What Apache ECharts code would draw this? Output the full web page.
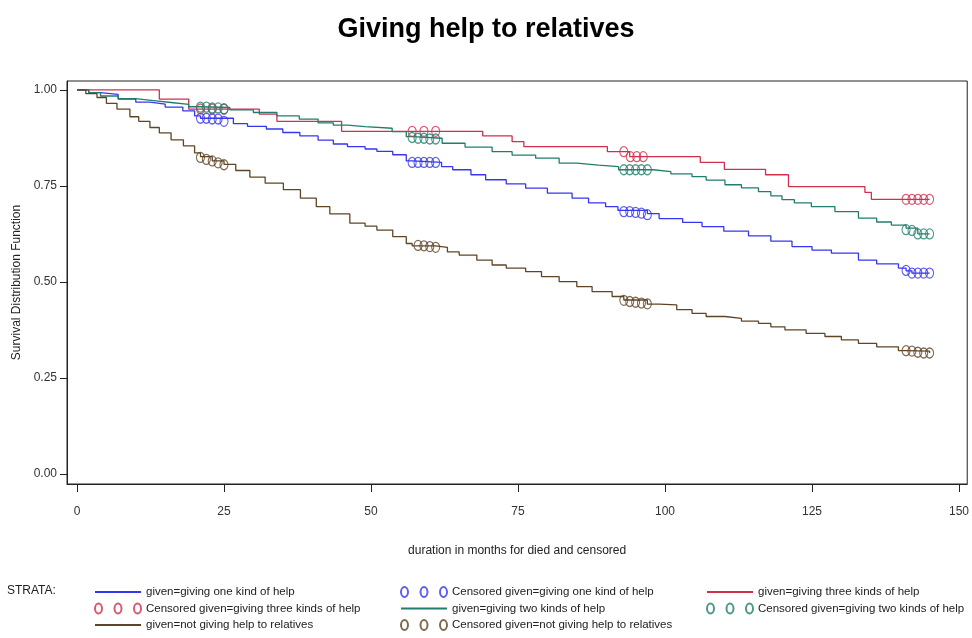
<!DOCTYPE html>
<html>
<head>
<meta charset="utf-8">
<script src="https://cdn.jsdelivr.net/npm/echarts@6/dist/echarts.min.js"></script>
<style>html,body{margin:0;padding:0;background:#fff}#c{width:972px;height:638px}</style>
</head>
<body>
<div id="c"></div>
<script>
// ---- data ----
var xTicks = [0, 25, 50, 75, 100, 125, 150];
var yTicks = [0, 0.25, 0.5, 0.75, 1.0];

var oneKind = [[0,1.0],[2,0.993],[4,0.988],[7,0.976],[10,0.968],[12.4,0.963],[15,0.955],[18,0.945],[20,0.932],[21,0.926],[26.6,0.912],[29,0.905],[32.2,0.898],[35,0.889],[37.9,0.880],[41,0.869],[43.6,0.859],[46,0.852],[49,0.846],[51,0.840],[53.7,0.831],[56,0.815],[57,0.811],[62,0.800],[63.9,0.792],[67,0.779],[69.5,0.766],[73,0.755],[76.3,0.744],[80,0.731],[84.2,0.718],[87,0.706],[89.9,0.696],[92,0.686],[97,0.678],[99,0.665],[103,0.655],[106.3,0.644],[110,0.632],[114.2,0.620],[118,0.606],[121.6,0.592],[125,0.583],[128.3,0.575],[132.9,0.557],[136,0.547],[139.7,0.536],[141,0.529],[142,0.523],[145,0.523]];
var oneKindCens = [[21,0.926],[22,0.926],[23,0.924],[24,0.924],[25,0.918],[57,0.811],[58,0.811],[59,0.811],[60,0.811],[61,0.811],[93,0.683],[94,0.683],[95,0.681],[96,0.679],[97,0.675],[141,0.530],[142,0.523],[143,0.523],[144,0.523],[145,0.523]];

var threeKinds = [[0,1.0],[14,0.976],[19,0.950],[31,0.937],[34,0.918],[45,0.892],[69,0.880],[74,0.865],[76,0.852],[90.2,0.839],[94,0.826],[106,0.811],[110.1,0.793],[117.1,0.779],[121,0.748],[134,0.733],[135.1,0.715],[145,0.715]];
var threeKindsCens = [[21,0.950],[23,0.950],[25,0.950],[57,0.892],[59,0.892],[61,0.892],[93,0.839],[94.1,0.826],[95.2,0.826],[96.3,0.826],[141,0.715],[142,0.715],[143,0.715],[144,0.715],[145,0.715]];

var twoKinds = [[0,1.0],[2,0.993],[4,0.984],[7,0.977],[10,0.972],[13,0.967],[16,0.962],[19,0.956],[21,0.954],[26,0.948],[30,0.941],[34,0.932],[37.8,0.924],[41,0.914],[43.6,0.908],[46,0.904],[49,0.900],[53.6,0.891],[56,0.878],[57,0.874],[62.1,0.861],[66,0.851],[70.6,0.839],[74,0.830],[78,0.822],[82,0.809],[85,0.804],[88.7,0.800],[92.1,0.792],[98,0.787],[101,0.781],[104.6,0.774],[107,0.765],[110.2,0.753],[113,0.745],[115.9,0.735],[118,0.724],[119.9,0.714],[122,0.706],[124.9,0.696],[128.9,0.683],[132.9,0.666],[136,0.656],[138.5,0.648],[141,0.640],[143,0.625],[145,0.625]];
var twoKindsCens = [[21,0.955],[22,0.955],[23,0.953],[24,0.953],[25,0.950],[57,0.876],[58,0.874],[59,0.874],[60,0.872],[61,0.872],[93,0.792],[94,0.792],[95,0.792],[96,0.792],[97,0.792],[141,0.636],[142,0.634],[143,0.625],[144,0.625],[145,0.625]];

var notGiving = [[0,1.0],[1.5,0.99],[3.4,0.980],[5,0.965],[6.8,0.950],[9,0.930],[10.5,0.918],[12.4,0.902],[14,0.888],[16,0.870],[18.1,0.854],[20,0.836],[21,0.826],[23,0.815],[25,0.806],[27,0.790],[29.4,0.773],[32,0.757],[35.1,0.740],[38,0.718],[40.7,0.696],[43,0.677],[46.4,0.653],[49,0.645],[51,0.635],[53.7,0.618],[56,0.600],[57,0.594],[61,0.590],[63,0.578],[65,0.570],[68,0.557],[70.6,0.544],[73,0.536],[76.3,0.527],[79,0.514],[82,0.501],[85,0.488],[87.6,0.475],[91,0.462],[93,0.453],[97,0.442],[99,0.440],[102,0.428],[104.6,0.418],[107,0.410],[110.2,0.405],[113,0.398],[115.9,0.392],[118,0.383],[120.4,0.375],[124,0.366],[127.2,0.358],[130,0.349],[132.9,0.340],[136,0.331],[139.7,0.321],[141,0.320],[145,0.315]];
var notGivingCens = [[21,0.824],[22,0.819],[23,0.815],[24,0.810],[25,0.805],[58,0.595],[59,0.594],[60,0.592],[61,0.590],[93,0.452],[94,0.449],[95,0.447],[96,0.445],[97,0.443],[141,0.321],[142,0.320],[143,0.317],[144,0.315],[145,0.315]];

var names = {
  one: 'given=giving one kind of help',
  oneC: 'Censored given=giving one kind of help',
  three: 'given=giving three kinds of help',
  threeC: 'Censored given=giving three kinds of help',
  two: 'given=giving two kinds of help',
  twoC: 'Censored given=giving two kinds of help',
  not: 'given=not giving help to relatives',
  notC: 'Censored given=not giving help to relatives'
};

// ---- styling ----
var FONT = '"Liberation Sans", Arial, sans-serif';
var C = { blue: '#3636f0', red: '#d0304c', green: '#1f7f6c', brown: '#5e4526' };
var circlesIcon = 'path://M0,5 A3.5,5 0 1,0 7,5 A3.5,5 0 1,0 0,5 Z M19.5,5 A3.5,5 0 1,0 26.5,5 A3.5,5 0 1,0 19.5,5 Z M39,5 A3.5,5 0 1,0 46,5 A3.5,5 0 1,0 39,5 Z';
var hideSym = { color: 'rgba(0,0,0,0)', borderWidth: 0, opacity: 0 };

function lineSeries(name, data, color) {
  return { type: 'line', name: name, data: data, step: 'end', symbol: 'none', showSymbol: false,
    lineStyle: { color: color, width: 1.3 }, itemStyle: { color: color }, animation: false, z: 2 };
}
function censSeries(name, data, color) {
  return { type: 'scatter', name: name, data: data, symbol: 'circle', symbolSize: [8, 10],
    itemStyle: { color: 'rgba(255,255,255,0)', borderColor: color, borderWidth: 1.2 }, animation: false, z: 3 };
}
function legendCol(left, items) {
  return { orient: 'vertical', left: left, top: 586, itemWidth: 46, itemHeight: 10, itemGap: 4.5,
    selectedMode: false, padding: 0,
    textStyle: { fontFamily: FONT, fontSize: 11.5, lineHeight: 12, color: '#222' },
    data: items };
}

var chart = echarts.init(document.getElementById('c'));
chart.setOption({
  backgroundColor: '#fff',
  animation: false,
  title: { text: 'Giving help to relatives', left: 'center', top: 11,
    textStyle: { fontFamily: FONT, fontSize: 27, fontWeight: 'bold', color: '#000' } },
  grid: { left: 67, top: 81, right: 3, bottom: 154, show: true, borderColor: '#222', borderWidth: 1 },
  xAxis: { type: 'value', min: -1.7, max: 151.4,
    name: 'duration in months for died and censored', nameLocation: 'middle', nameGap: 61,
    nameTextStyle: { fontFamily: FONT, fontSize: 12, color: '#222' },
    axisLine: { show: true, onZero: false, lineStyle: { color: '#222' } },
    axisTick: { show: true, customValues: xTicks, length: 8, lineStyle: { color: '#222' } },
    axisLabel: { customValues: xTicks, margin: 22, fontFamily: FONT, fontSize: 12, color: '#333' },
    splitLine: { show: false } },
  yAxis: { type: 'value', min: -0.026, max: 1.023,
    name: 'Survival Distribution Function', nameLocation: 'middle', nameGap: 44,
    nameTextStyle: { fontFamily: FONT, fontSize: 12, color: '#222' },
    axisLine: { show: true, onZero: false, lineStyle: { color: '#222' } },
    axisTick: { show: true, customValues: yTicks, length: 7, lineStyle: { color: '#222' } },
    axisLabel: { customValues: yTicks, margin: 10, fontFamily: FONT, fontSize: 12, color: '#333',
      formatter: function (v) { return v.toFixed(2); } },
    splitLine: { show: false } },
  legend: [
    legendCol(94, [{ name: names.one, itemStyle: hideSym }, { name: names.threeC, icon: circlesIcon }, { name: names.not, itemStyle: hideSym }]),
    legendCol(400, [{ name: names.oneC, icon: circlesIcon }, { name: names.two, itemStyle: hideSym }, { name: names.notC, icon: circlesIcon }]),
    legendCol(706, [{ name: names.three, itemStyle: hideSym }, { name: names.twoC, icon: circlesIcon }])
  ],
  graphic: [{ type: 'text', left: 7, top: 585,
    style: { text: 'STRATA:', fontFamily: FONT, fontSize: 12, fill: '#222' } }],
  series: [
    lineSeries(names.one, oneKind, C.blue),
    censSeries(names.oneC, oneKindCens, C.blue),
    lineSeries(names.three, threeKinds, C.red),
    censSeries(names.threeC, threeKindsCens, C.red),
    lineSeries(names.two, twoKinds, C.green),
    censSeries(names.twoC, twoKindsCens, C.green),
    lineSeries(names.not, notGiving, C.brown),
    censSeries(names.notC, notGivingCens, C.brown)
  ]
});
</script>
</body>
</html>
